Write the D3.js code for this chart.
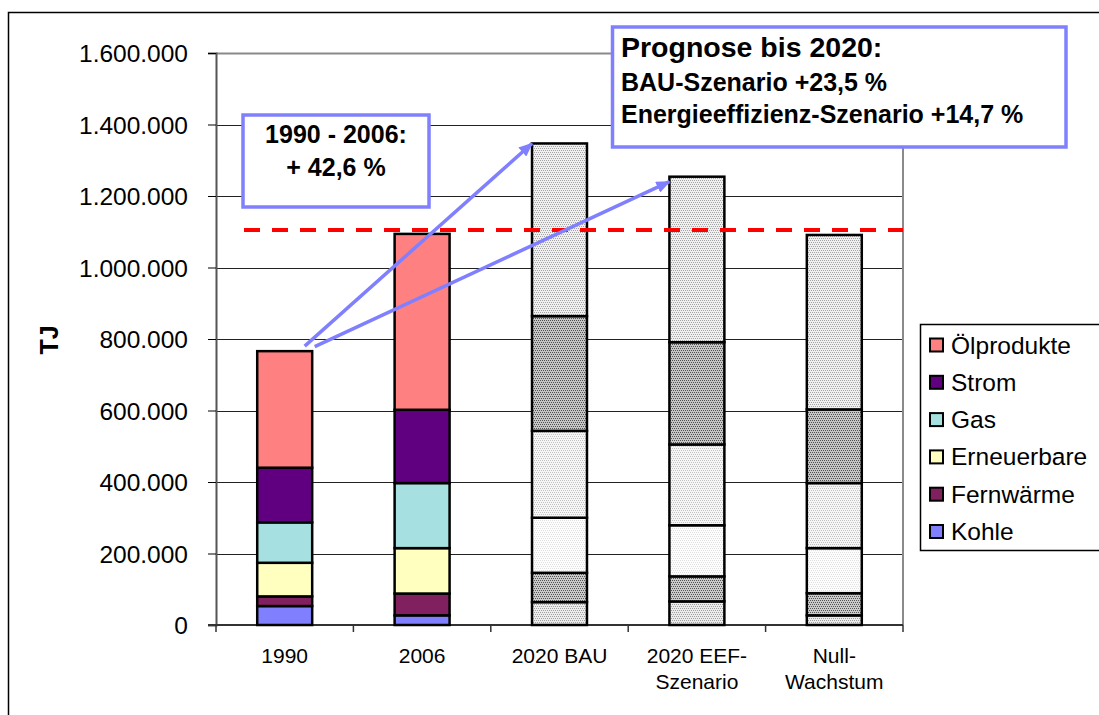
<!DOCTYPE html>
<html>
<head>
<meta charset="utf-8">
<script src="https://cdn.jsdelivr.net/npm/d3@7"></script>
<style>
  html, body { margin: 0; padding: 0; background: #fff; }
  svg { display: block; font-family: "Liberation Sans", Arial, sans-serif; }
</style>
</head>
<body>
<svg id="chart" width="1099" height="715"></svg>
<script>
// ---------- data ----------
const categories = ["1990", "2006", "2020 BAU", "2020 EEF-Szenario", "Null-Wachstum"];
const categoryLabels = [["1990"], ["2006"], ["2020 BAU"], ["2020 EEF-", "Szenario"], ["Null-", "Wachstum"]];
const seriesNames = ["Kohle", "Fernwärme", "Erneuerbare", "Gas", "Strom", "Ölprodukte"]; // bottom -> top
const kohle       = [53000, 27000, 64000, 66000, 27000];
const fernwaerme  = [27000, 61000, 82000, 70000, 62000];
const erneuerbare = [94000, 127000, 154000, 143000, 126000];
const gas         = [113000, 182000, 243000, 226000, 182000];
const strom       = [153000, 205000, 321000, 286000, 206000];
const oel         = [326000, 492000, 483000, 463000, 488000];
const yTicks = [0, 200000, 400000, 600000, 800000, 1000000, 1200000, 1400000, 1600000];
const targetValue = 1105000;
const legendOrder = ["Ölprodukte", "Strom", "Gas", "Erneuerbare", "Fernwärme", "Kohle"];
const box1Lines = ["1990 - 2006:", "+ 42,6 %"];
const box2Lines = ["Prognose bis 2020:", "BAU-Szenario +23,5 %", "Energieeffizienz-Szenario +14,7 %"];

// ---------- styles ----------
const colors = {
  "Ölprodukte": "#ff8080", "Strom": "#600080", "Gas": "#a6e0e0",
  "Erneuerbare": "#ffffc0", "Fernwärme": "#80205f", "Kohle": "#8080ff"
};
const patternStyle = {
  "Ölprodukte": ["#f0f0f0", "#a4a4a4"],
  "Strom": ["#c6c6c6", "#505050"],
  "Gas": ["#f6f6f6", "#c2c2c2"],
  "Erneuerbare": ["#fdfdfd", "#e0e0e0"],
  "Fernwärme": ["#cacaca", "#555555"],
  "Kohle": ["#ececec", "#a0a0a0"]
};
const patId = n => "pat" + seriesNames.indexOf(n);

const svg = d3.select("#chart");
const W = 1099, H = 715;
const plot = { left: 216, right: 903, top: 53, bottom: 625 };

// outer frame
svg.append("rect").attr("x", 8.5).attr("y", 12.5).attr("width", 1100).attr("height", 710)
  .attr("fill", "#fff").attr("stroke", "#000").attr("stroke-width", 1.5);

// patterns
const defs = svg.append("defs");
seriesNames.forEach(n => {
  const [bg, dot] = patternStyle[n];
  const p = defs.append("pattern").attr("id", patId(n)).attr("patternUnits", "userSpaceOnUse")
    .attr("width", 4).attr("height", 4);
  p.append("rect").attr("width", 4).attr("height", 4).attr("fill", bg);
  [[0, 0], [2, 0], [1, 2], [3, 2]].forEach(([x, y]) =>
    p.append("rect").attr("x", x).attr("y", y).attr("width", 1).attr("height", 1).attr("fill", dot));
});
// arrow marker
defs.append("marker").attr("id", "arrow").attr("markerUnits", "userSpaceOnUse")
  .attr("viewBox", "0 0 14 12").attr("refX", 13).attr("refY", 6)
  .attr("markerWidth", 14).attr("markerHeight", 12).attr("orient", "auto")
  .append("path").attr("d", "M0,0 L14,6 L0,12 Z").attr("fill", "#8080ff");

// scales
const x = d3.scaleBand().domain(categories).range([plot.left, plot.right])
  .paddingInner(0.6).paddingOuter(0.3);
const y = d3.scaleLinear().domain([0, 1600000]).range([plot.bottom, plot.top]);
const fmt = d3.formatLocale({ decimal: ",", thousands: ".", grouping: [3], currency: ["", ""] }).format(",");

// gridlines
svg.append("g").selectAll("line").data(yTicks.filter(t => t > 0 && t < 1600000)).join("line")
  .attr("x1", plot.left).attr("x2", plot.right)
  .attr("y1", d => Math.round(y(d)) + 0.5).attr("y2", d => Math.round(y(d)) + 0.5)
  .attr("stroke", "#222").attr("stroke-width", 1);

// plot border (top/right gray)
svg.append("path")
  .attr("d", `M${plot.left},${plot.top + 0.5} H${plot.right} V${plot.bottom}`)
  .attr("fill", "none").attr("stroke", "#8a8a8a").attr("stroke-width", 2);

// y axis
const yAxis = d3.axisLeft(y).tickValues(yTicks).tickFormat(fmt).tickSize(8).tickPadding(20);
const gy = svg.append("g").attr("transform", `translate(${plot.left},0)`).call(yAxis);
gy.select(".domain").attr("stroke", "#555").attr("stroke-width", 2);
gy.selectAll(".tick line").attr("stroke", "#000").attr("stroke-width", 1);
gy.selectAll(".tick text").attr("font-size", 24.5).attr("fill", "#000")
  .attr("font-family", "Liberation Sans, Arial, sans-serif").attr("dy", "0.36em");

// x axis
const boundaries = categories.map(c => x(c) - x.step() * x.paddingInner() / 2 - (x.step() - x.step()) )
  .map((v, i) => plot.left + i * x.step());
boundaries.push(plot.right);
const gx = svg.append("g");
gx.append("line").attr("x1", plot.left - 8).attr("x2", plot.right)
  .attr("y1", plot.bottom).attr("y2", plot.bottom).attr("stroke", "#333").attr("stroke-width", 2);
gx.selectAll("line.tk").data(boundaries).join("line").attr("class", "tk")
  .attr("x1", d => d).attr("x2", d => d).attr("y1", plot.bottom).attr("y2", plot.bottom + 7)
  .attr("stroke", "#333").attr("stroke-width", 1.5);
categories.forEach((c, i) => {
  const t = gx.append("text").attr("x", x(c) + x.bandwidth() / 2).attr("y", 663)
    .attr("text-anchor", "middle").attr("font-size", 21).attr("fill", "#000");
  categoryLabels[i].forEach((ln, j) =>
    t.append("tspan").attr("x", x(c) + x.bandwidth() / 2).attr("dy", j === 0 ? 0 : 26).text(ln));
});

// y title
svg.append("text").attr("transform", "translate(58,340) rotate(-90)")
  .attr("text-anchor", "middle").attr("font-size", 25).attr("font-weight", "bold").text("TJ");

// stacked bars
const rows = categories.map((c, i) => ({
  cat: c, i,
  "Kohle": kohle[i], "Fernwärme": fernwaerme[i], "Erneuerbare": erneuerbare[i],
  "Gas": gas[i], "Strom": strom[i], "Ölprodukte": oel[i]
}));
const stacked = d3.stack().keys(seriesNames)(rows);
const barsG = svg.append("g");
stacked.forEach(layer => {
  barsG.append("g").selectAll("rect").data(layer).join("rect")
    .attr("x", d => x(d.data.cat))
    .attr("width", x.bandwidth())
    .attr("y", d => y(d[1]))
    .attr("height", d => y(d[0]) - y(d[1]))
    .attr("fill", d => d.data.i >= 2 ? `url(#${patId(layer.key)})` : colors[layer.key])
    .attr("stroke", "#000").attr("stroke-width", 2.5);
});

// target dashed line
svg.append("line").attr("x1", 244).attr("x2", plot.right)
  .attr("y1", y(targetValue)).attr("y2", y(targetValue))
  .attr("stroke", "#ff0000").attr("stroke-width", 4).attr("stroke-dasharray", "16,12");

// annotation boxes
svg.append("rect").attr("x", 243).attr("y", 115).attr("width", 186).attr("height", 92)
  .attr("fill", "#fff").attr("stroke", "#8080ff").attr("stroke-width", 3.5);
box1Lines.forEach((t, i) =>
  svg.append("text").attr("x", 336).attr("y", 143 + i * 33).attr("text-anchor", "middle")
    .attr("font-size", 25).attr("font-weight", "bold").text(t));

svg.append("rect").attr("x", 612.5).attr("y", 27).attr("width", 453.5).attr("height", 120)
  .attr("fill", "#fff").attr("stroke", "#8080ff").attr("stroke-width", 3.5);
box2Lines.forEach((t, i) =>
  svg.append("text").attr("x", 621).attr("y", [57, 90.5, 123][i])
    .attr("font-size", i === 0 ? 28.5 : 25).attr("font-weight", "bold").text(t));

// arrows (from 1990 total to scenario totals)
const total = i => seriesNames.reduce((s, n) => s + rows[i][n], 0);
const x1990 = x(categories[0]) + x.bandwidth() / 2;
const arrows = [
  { sx: x1990 + 20, sy: y(total(0)) - 5, tx: x(categories[2]), ty: y(total(2)) },
  { sx: x1990 + 30, sy: y(total(0)) - 4.5, tx: x(categories[3]), ty: y(total(3)) + 5 }
];
svg.append("g").selectAll("line").data(arrows).join("line")
  .attr("x1", d => d.sx).attr("y1", d => d.sy).attr("x2", d => d.tx).attr("y2", d => d.ty)
  .attr("stroke", "#8080ff").attr("stroke-width", 3.5).attr("marker-end", "url(#arrow)");

// legend
const lg = svg.append("g");
lg.append("rect").attr("x", 920.5).attr("y", 324.5).attr("width", 200).attr("height", 226)
  .attr("fill", "#fff").attr("stroke", "#000").attr("stroke-width", 1.5);
legendOrder.forEach((n, i) => {
  const cy = 345 + i * 37.3;
  lg.append("rect").attr("x", 930).attr("y", cy - 6.5).attr("width", 13).attr("height", 13)
    .attr("fill", colors[n]).attr("stroke", "#000").attr("stroke-width", 2);
  lg.append("text").attr("x", 951).attr("y", cy + 8.5).attr("font-size", 24.5).text(n);
});
</script>
</body>
</html>
